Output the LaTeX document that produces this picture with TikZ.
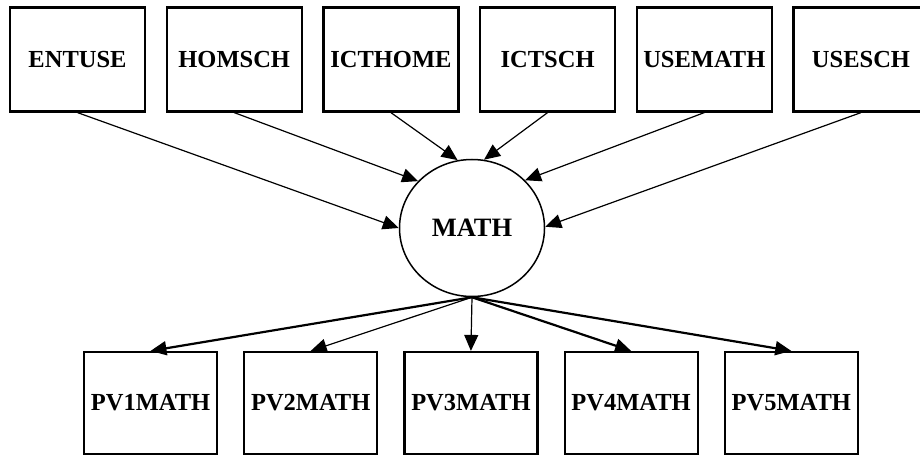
\documentclass[tikz,border=0pt]{standalone}
\usepackage{fontspec}
\setmainfont{Liberation Serif}
\usetikzlibrary{arrows.meta,positioning,shapes.geometric}

\begin{document}
\begin{tikzpicture}[
      x=1pt, y=-1pt,
      font=\bfseries\fontsize{24.5}{28}\selectfont,
      obs/.style={draw, line width=2.2pt, inner sep=0pt, align=center},
      topbox/.style={obs, minimum width=135pt, minimum height=104pt},
      pvbox/.style={obs, minimum width=133pt, minimum height=102pt},
      lat/.style={draw, ellipse, line width=1.5pt, minimum width=145pt, minimum height=137pt, inner sep=0pt, font=\bfseries\fontsize{26.5}{30}\selectfont},
      arr/.style={-{Triangle[length=16pt,width=14pt]}, line width=1.2pt},
      arrthick/.style={arr, line width=2.2pt}
    ]
    \useasboundingbox (0,0) rectangle (920,457);
    \clip (0,0) rectangle (920,457);
    \node[topbox] (entuse) at (77.5,59.5) {ENTUSE};
    \node[topbox, right=19.5pt of entuse] (homsch) {HOMSCH};
    \node[topbox, right=19.5pt of homsch] (icthome) {ICTHOME};
    \node[topbox, right=19.5pt of icthome] (ictsch) {ICTSCH};
    \node[topbox, right=19.5pt of ictsch] (usemath) {USEMATH};
    \node[topbox, right=19.5pt of usemath] (usesch) {USESCH};
    \node[lat] (math) at (472,228) {MATH};
    \node[pvbox] (pv1) at (150.5,403) {PV1MATH};
    \node[pvbox, right=25pt of pv1] (pv2) {PV2MATH};
    \node[pvbox, right=25pt of pv2] (pv3) {PV3MATH};
    \node[pvbox, right=25pt of pv3] (pv4) {PV4MATH};
    \node[pvbox, right=25pt of pv4] (pv5) {PV5MATH};
    \draw[arr] (entuse.south) -- (math.180);
    \draw[arr] (homsch.south) -- (math.139);
    \draw[arr] (icthome.south) -- (math.102);
    \draw[arr] (ictsch.south) -- (math.80);
    \draw[arr] (usemath.south) -- (math.42);
    \draw[arr] (usesch.south) -- (math.1);
    \draw[arrthick] (math.south) -- (pv1.north);
    \draw[arr] (math.south) -- (pv2.north);
    \draw[arr] (math.south) -- (pv3.north);
    \draw[arrthick] (math.south) -- (pv4.north);
    \draw[arrthick] (math.south) -- (pv5.north);
  \end{tikzpicture}
\end{document}
